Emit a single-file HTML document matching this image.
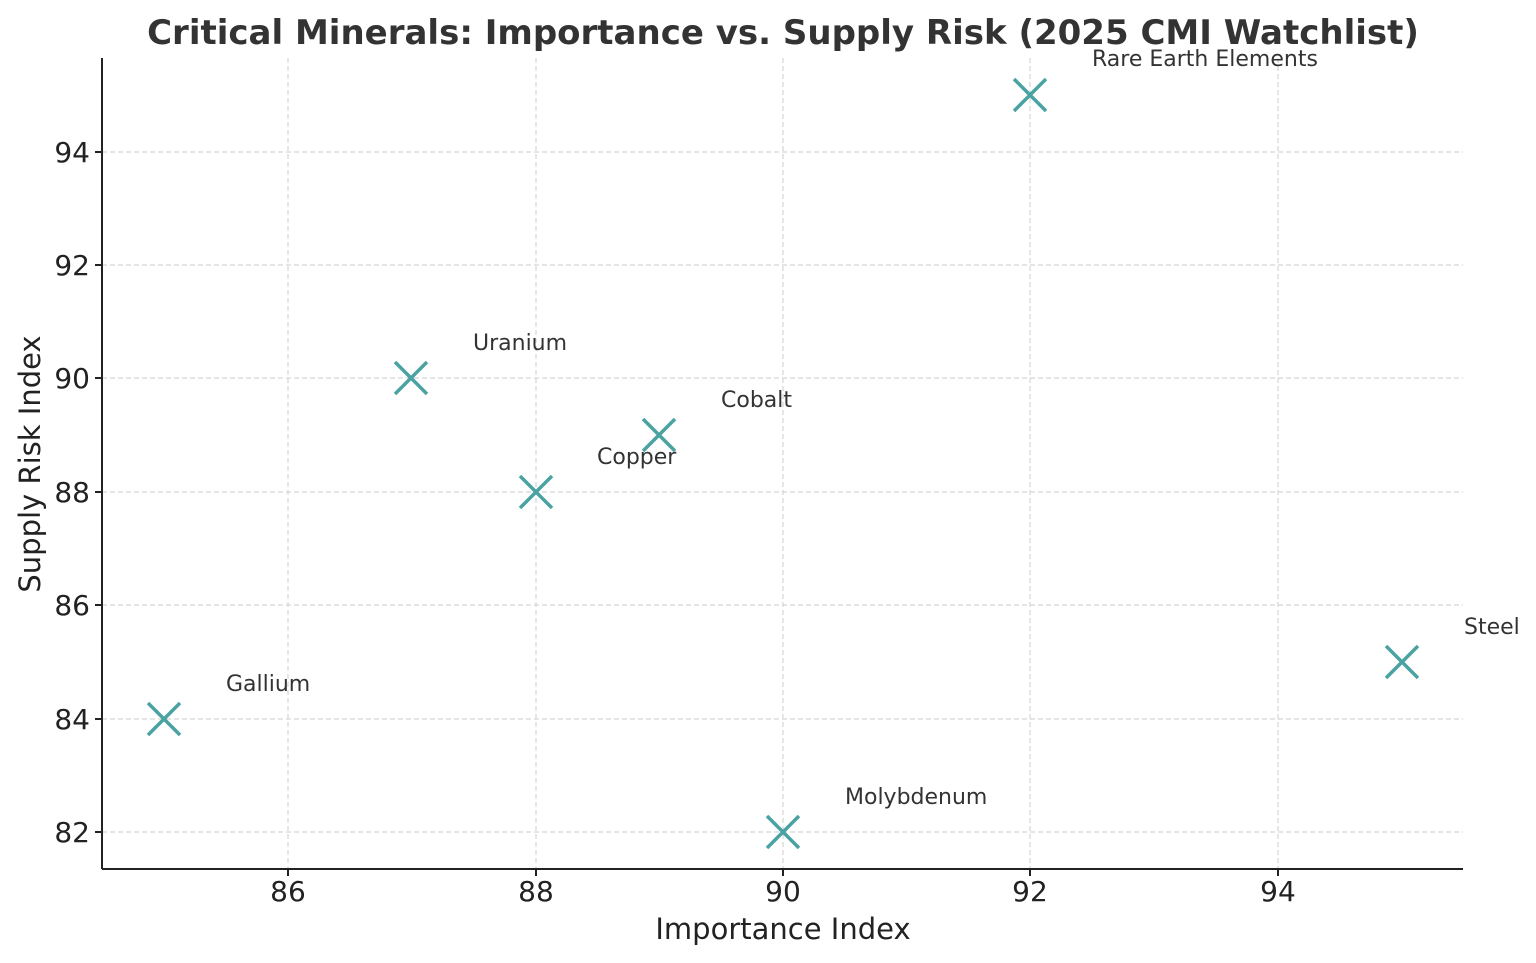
<!DOCTYPE html>
<html><head><meta charset="utf-8"><style>
html,body{margin:0;padding:0;background:#fff;}
svg{display:block;font-family:"DejaVu Sans","Liberation Sans",sans-serif;}
</style></head><body>
<svg width="1536" height="963" viewBox="0 0 1536 963">
<rect width="1536" height="963" fill="#fff"/>
<text x="783" y="44" text-anchor="middle" font-size="34" font-weight="bold" fill="#333">Critical Minerals: Importance vs. Supply Risk (2025 CMI Watchlist)</text>
<g stroke="#d5d5d5" stroke-width="1.2" stroke-dasharray="5,3">
<line x1="288" y1="58" x2="288" y2="869"/><line x1="536" y1="58" x2="536" y2="869"/>
<line x1="783" y1="58" x2="783" y2="869"/><line x1="1030" y1="58" x2="1030" y2="869"/>
<line x1="1278" y1="58" x2="1278" y2="869"/>
<line x1="102" y1="152" x2="1463" y2="152"/><line x1="102" y1="265" x2="1463" y2="265"/>
<line x1="102" y1="378" x2="1463" y2="378"/><line x1="102" y1="492" x2="1463" y2="492"/>
<line x1="102" y1="605" x2="1463" y2="605"/><line x1="102" y1="719" x2="1463" y2="719"/>
<line x1="102" y1="832" x2="1463" y2="832"/>
</g>
<g stroke="#222" stroke-width="2" fill="none">
<line x1="102" y1="58" x2="102" y2="869"/><line x1="102" y1="869" x2="1463" y2="869"/>
<line x1="288" y1="869" x2="288" y2="876"/><line x1="536" y1="869" x2="536" y2="876"/>
<line x1="783" y1="869" x2="783" y2="876"/><line x1="1030" y1="869" x2="1030" y2="876"/>
<line x1="1278" y1="869" x2="1278" y2="876"/>
<line x1="95" y1="152" x2="102" y2="152"/><line x1="95" y1="265" x2="102" y2="265"/>
<line x1="95" y1="378" x2="102" y2="378"/><line x1="95" y1="492" x2="102" y2="492"/>
<line x1="95" y1="605" x2="102" y2="605"/><line x1="95" y1="719" x2="102" y2="719"/>
<line x1="95" y1="832" x2="102" y2="832"/>
</g>
<g font-size="28" fill="#222" text-anchor="middle">
<text x="288" y="901">86</text><text x="536" y="901">88</text><text x="783" y="901">90</text>
<text x="1030" y="901">92</text><text x="1278" y="901">94</text>
</g>
<g font-size="28" fill="#222" text-anchor="end">
<text x="90" y="162">94</text><text x="90" y="275">92</text><text x="90" y="388">90</text>
<text x="90" y="502">88</text><text x="90" y="615">86</text><text x="90" y="729">84</text>
<text x="90" y="842">82</text>
</g>
<text x="783" y="939" text-anchor="middle" font-size="29" fill="#222">Importance Index</text>
<text transform="translate(40,464) rotate(-90)" text-anchor="middle" font-size="29" fill="#222">Supply Risk Index</text>
<g stroke="#4aa3a2" stroke-width="3.5">
<path d="M148 703L180 735M180 703L148 735"/>
<path d="M395 362L427 394M427 362L395 394"/>
<path d="M520 476L552 508M552 476L520 508"/>
<path d="M643 419L675 451M675 419L643 451"/>
<path d="M767 816L799 848M799 816L767 848"/>
<path d="M1014 79L1046 111M1046 79L1014 111"/>
<path d="M1386 646L1418 678M1418 646L1386 678"/>
</g>
<g font-size="22" fill="#333">
<text x="226" y="691">Gallium</text>
<text x="473" y="350">Uranium</text>
<text x="597" y="464">Copper</text>
<text x="721" y="407">Cobalt</text>
<text x="845" y="804">Molybdenum</text>
<text x="1092" y="66">Rare Earth Elements</text>
<text x="1464" y="634">Steel</text>
</g>
</svg>
</body></html>
